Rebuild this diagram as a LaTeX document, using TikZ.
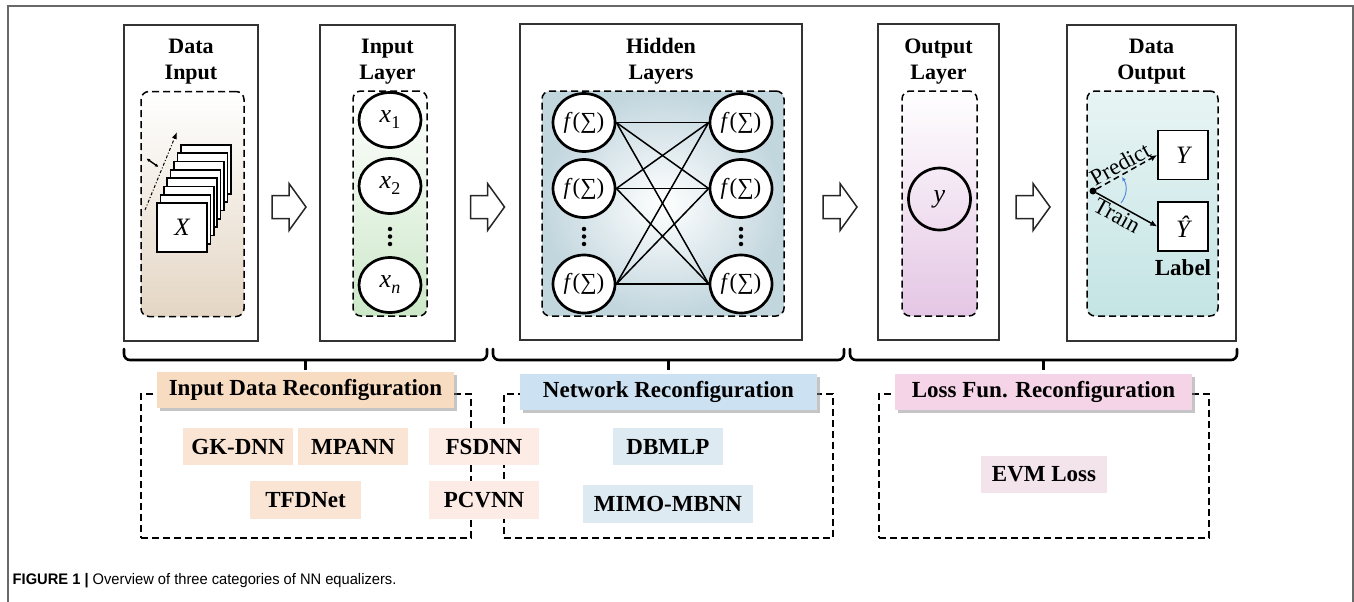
\documentclass[tikz,border=0pt]{standalone}
\usepackage{fontspec}
\setmainfont{Liberation Serif}
\newfontfamily\capfont[FakeStretch=0.96]{Liberation Sans}
\usetikzlibrary{shadows,arrows.meta,shapes.geometric,calc}

\definecolor{frameGray}{RGB}{105,105,105}
\definecolor{tanBot}{RGB}{228,214,196}
\definecolor{greenBot}{RGB}{204,232,200}
\definecolor{blueOut}{RGB}{194,214,222}
\definecolor{lilacBot}{RGB}{228,198,228}
\definecolor{tealTop}{RGB}{232,244,244}
\definecolor{tealBot}{RGB}{196,228,228}
\definecolor{catOne}{RGB}{248,220,194}
\definecolor{catTwo}{RGB}{204,225,242}
\definecolor{catThree}{RGB}{244,212,230}
\definecolor{mPeach}{RGB}{250,229,213}
\definecolor{mRose}{RGB}{253,236,230}
\definecolor{mBlue}{RGB}{221,234,242}
\definecolor{mPink}{RGB}{243,228,236}
\definecolor{arcBlue}{RGB}{80,130,220}

% variable with an upright subscript
\newcommand\varsub[2]{\textit{#1}\raisebox{-6pt}{\fontsize{18}{20}\selectfont #2}}

\tikzset{
  panel/.style={draw=black!80, line width=1.3pt, minimum width=#1, minimum height=316, inner sep=0},
  ttl/.style={font=\bfseries\fontsize{22}{26}\selectfont, anchor=base, inner sep=0},
  dbox/.style={draw, dashed, dash pattern=on 7pt off 4pt, line width=1.5pt, rounded corners=8pt,
    minimum width=#1, minimum height=225, inner sep=0},
  neuron/.style={draw, fill=white, ellipse, line width=2.7pt, minimum width=62, minimum height=55,
    inner sep=0, font=\fontsize{26}{30}\selectfont},
  hneuron/.style={neuron, minimum height=58, font=\fontsize{23}{27}\selectfont},
  sheet/.style={draw, fill=white, line width=1.6pt, minimum width=50, minimum height=49, inner sep=0,
    font=\itshape\fontsize{25}{28}\selectfont},
  vbox/.style={draw, fill=white, line width=1.5pt, minimum width=50, minimum height=49, inner sep=0,
    font=\itshape\fontsize{25}{28}\selectfont},
  dotmark/.style={circle, fill=black, inner sep=0, minimum size=4.5},
  link/.style={line width=1.5pt},
  brace/.style={line width=2.6pt, line cap=round},
  hollow/.style={draw=black!85, line width=1.5pt, fill=white, line join=miter},
  cat/.style={fill=#1, minimum width=297, minimum height=36, inner sep=0,
    font=\bfseries\fontsize{23}{27}\selectfont,
    drop shadow={shadow xshift=2.5pt, shadow yshift=-3pt, fill=black!45, opacity=0.5}},
  group/.style={draw, dash pattern=on 7pt off 4pt, line width=1.5pt, minimum width=#1,
    minimum height=144, inner sep=0},
  model/.style={fill=#1, minimum height=37, inner sep=0, font=\bfseries\fontsize{23}{27}\selectfont},
  flowtag/.style={sloped, inner sep=1.5pt, font=\fontsize{23}{26}\selectfont},
  blockarrow/.pic={\draw[hollow] (-17,-11.5) -- (0,-11.5) -- (0,-23.5) -- (17,0) -- (0,23.5)
    -- (0,11.5) -- (-17,11.5) -- cycle;}
}

\begin{document}
\begin{tikzpicture}[x=1pt, y=-1pt]
\useasboundingbox (0,0) rectangle (1354,602);

% outer frame (open at the bottom)
\draw[frameGray, line width=1.6pt] (8,602) -- (8,6) -- (1353,6) -- (1353,602);

% ---------- five stage panels ----------
\node[panel=134] (p1) at (191,183) {};
\node[panel=135] (p2) at (387.5,183) {};
\node[panel=282] (p3) at (661,182) {};
\node[panel=121] (p4) at (938.5,182) {};
\node[panel=169] (p5) at (1151.5,183) {};

\node[ttl] (t1a) at (191,53) {Data};
\node[ttl] (t1b) at (191,80) {Input};
\node[ttl] (t2a) at (387.5,53) {Input};
\node[ttl] (t2b) at (387.5,80) {Layer};
\node[ttl] (t3a) at (661,53) {Hidden};
\node[ttl] (t3b) at (661,80) {Layers};
\node[ttl] (t4a) at (938.5,53) {Output};
\node[ttl] (t4b) at (938.5,80) {Layer};
\node[ttl] (t5a) at (1151.5,53) {Data};
\node[ttl] (t5b) at (1151.5,80) {Output};

% shaded dashed inner areas
\node[dbox=103, top color=white, bottom color=tanBot] (d1) at (192.5,204) {};
\node[dbox=74, top color=white, bottom color=greenBot] (d2) at (390,203.5) {};
\node[dbox=242, inner color=white, outer color=blueOut] (d3) at (663,203.5) {};
\node[dbox=75, top color=white, bottom color=lilacBot] (d4) at (939.5,203.5) {};
\node[dbox=131, top color=tealTop, bottom color=tealBot] (d5) at (1152.5,203.5) {};

% ---------- data input: stack of frames ----------
\foreach \k in {7,...,1}
  \node[sheet] (s\k) at ({182+3.4*\k},{227.5-8.3*\k}) {};
\node[sheet] (s0) at (182,227.5) {X};
\coordinate (ddA) at (145,210);
\coordinate (ddB) at (177,132);
\draw[line width=1pt, dash dot, -{Latex[length=7pt,width=5pt]}] (ddA) -- (ddB);
\coordinate (tkA) at (146.5,158.5);
\coordinate (tkB) at (158.5,167);
\draw[line width=1.4pt, {Latex[length=3.5pt,width=3.5pt]}-{Latex[length=3.5pt,width=3.5pt]}] (tkA) -- (tkB);

% ---------- input layer ----------
\node[neuron] (x1) at (390,120) {\varsub{x}{1}};
\node[neuron] (x2) at (390,186) {\varsub{x}{2}};
\node[neuron] (xn) at (390,285) {\varsub{x}{\textit{n}}};
\foreach \yy in {229,236.5,244} \node[dotmark] at (390,\yy) {};

% ---------- hidden layers ----------
\node[hneuron] (h1) at (584,122.5) {\textit{f}(∑)};
\node[hneuron] (h2) at (584,188.5) {\textit{f}(∑)};
\node[hneuron] (h3) at (584,284) {\textit{f}(∑)};
\node[hneuron] (g1) at (741,122.5) {\textit{f}(∑)};
\node[hneuron] (g2) at (741,188.5) {\textit{f}(∑)};
\node[hneuron] (g3) at (741,284) {\textit{f}(∑)};
\foreach \yy in {229,236.5,244} {
  \node[dotmark] at (584,\yy) {};
  \node[dotmark] at (741,\yy) {};
}
\foreach \i in {1,2,3}
  \foreach \j in {1,2,3}
    \draw[link] (h\i.east) -- (g\j.west);

% ---------- output layer ----------
\node[draw, circle, line width=2.7pt, minimum size=62, inner sep=0,
  font=\itshape\fontsize{26}{29}\selectfont] (y) at (939.5,199) {y};

% ---------- data output ----------
\node[vbox] (Yp) at (1183,155) {Y};
\node[vbox] (Yt) at (1183,226.5) {Ŷ};
\node[ttl, font=\bfseries\fontsize{23}{27}\selectfont] (lab) at (1183,275) {Label};
\node[circle, fill=black, inner sep=0, minimum size=7] (src) at (1093,191) {};
\draw[line width=1.5pt, dashed, dash pattern=on 6pt off 4pt, -{Latex[length=7pt,width=6pt]}]
  (src) -- node[flowtag, pos=0.47, anchor=south] {Predict} (Yp.west);
\draw[line width=1.5pt, -{Latex[length=7pt,width=6pt]}]
  (src) -- node[flowtag, pos=0.42, anchor=north] {Train} (Yt.west);
\coordinate (arcA) at ($(src)+(28,12)$);
\coordinate (arcB) at ($(src)+(29,-14)$);
\draw[arcBlue, line width=0.9pt, -{Latex[length=4pt,width=4pt]}] (arcA) to[bend right=35] (arcB);

% ---------- flow arrows ----------
\pic at (289,207) {blockarrow};
\pic at (487.5,207) {blockarrow};
\pic at (840,207) {blockarrow};
\pic at (1033,207) {blockarrow};

% ---------- braces ----------
\foreach \a/\b/\n in {124/487/1, 493/844/2, 850/1237/3} {
  \coordinate (bl\n) at (\a,349);
  \coordinate (br\n) at (\b,349);
  \draw[brace, rounded corners=6pt] (bl\n) -- (\a,360) -- (\b,360) -- (br\n);
  \coordinate (bm\n) at ({(\a+\b)/2},360);
  \coordinate (bt\n) at ({(\a+\b)/2},370);
  \draw[brace, line cap=butt] (bm\n) -- (bt\n);
}

% ---------- category groups ----------
\node[group=330] (G1) at (306,466) {};
\node[group=329] (G2) at (668.5,466) {};
\node[group=330] (G3) at (1044,466) {};

\node[cat=catOne] (c1) at (305.5,390) {Input Data Reconfiguration};
\node[cat=catTwo] (c2) at (668.5,392) {Network Reconfiguration};
\node[cat=catThree] (c3) at (1043.5,391.5) {Loss Fun. Reconfiguration};

\node[model=mPeach, minimum width=110] (m1) at (238,446.5) {GK-DNN};
\node[model=mPeach, minimum width=110] (m2) at (353,446.5) {MPANN};
\node[model=mRose, minimum width=110] (m3) at (484,446.5) {FSDNN};
\node[model=mPeach, minimum width=111, minimum height=38] (m4) at (305.5,500) {TFDNet};
\node[model=mRose, minimum width=110, minimum height=38] (m5) at (484,500) {PCVNN};
\node[model=mBlue, minimum width=110] (m6) at (668,446.5) {DBMLP};
\node[model=mBlue, minimum width=170, minimum height=38] (m7) at (668,504) {MIMO-MBNN};
\node[model=mPink, minimum width=126] (m8) at (1044,474.5) {EVM Loss};

% ---------- caption ----------
\node[anchor=base west, inner sep=0, font=\capfont\fontsize{15.3}{18}\selectfont] (cap) at (12.5,584)
  {\textbf{FIGURE 1 |} Overview of three categories of NN equalizers.};
\end{tikzpicture}
\end{document}
